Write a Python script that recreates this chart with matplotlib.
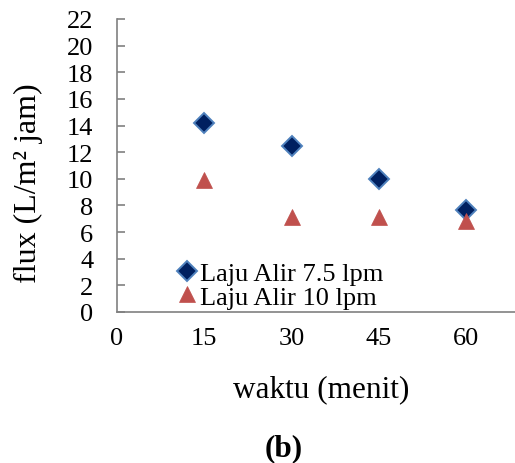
import numpy as np
import matplotlib
matplotlib.use('Agg')
from matplotlib import pyplot as plt

plt.rcParams['font.family'] = ['Liberation Serif', 'DejaVu Serif']

waktu = [15, 30, 45, 60]
flux_75 = [14.19, 12.49, 9.99, 7.66]   # Laju Alir 7.5 lpm
flux_10 = [9.93, 7.11, 7.11, 6.80]     # Laju Alir 10 lpm
x_ticks = [0, 15, 30, 45, 60]
y_ticks = list(range(0, 23, 2))

W, H = 515, 464
fig = plt.figure(figsize=(W / 100, H / 100), dpi=100)
# plot area in pixels: left spine x=117, y from 20 (22) to 313 (0)
ax = fig.add_axes([117 / W, 1 - 313 / H, (W - 117) / W, (313 - 20) / H])

ax.plot(waktu, flux_75, linestyle='none', marker='D', markersize=10,
        markerfacecolor='#002060', markeredgecolor='#4F81BD', markeredgewidth=1.4,
        label='Laju Alir 7.5 lpm')
ax.plot(waktu, flux_10, linestyle='none', marker='^', markersize=11,
        markerfacecolor='#C0504D', markeredgecolor='#C0504D', markeredgewidth=0.5,
        label='Laju Alir 10 lpm')

ax.set_xlim(0, (W - 117) / 87.3 * 15)
ax.set_ylim(0, 22)
ax.set_xticks(x_ticks)
ax.set_yticks(y_ticks)

for s in ['top', 'right']:
    ax.spines[s].set_visible(False)
for s in ['left', 'bottom']:
    ax.spines[s].set_color('#808080')
    ax.spines[s].set_linewidth(1.2)

ax.tick_params(axis='y', direction='in', length=6, width=1.2, color='#808080',
               labelsize=19, pad=17)
ax.tick_params(axis='x', length=0, labelsize=19, pad=11)

leg = ax.legend(loc='center left', bbox_to_anchor=(0.143, 0.092), frameon=False,
                fontsize=19, handlelength=1.0, handletextpad=0.0, borderpad=0,
                borderaxespad=0, labelspacing=0.0)

fig.text(28 / W, 1 - 183 / H, 'flux (L/m² jam)', rotation=90, fontsize=23,
         ha='center', va='center')
fig.text(321.5 / W, 1 - 390 / H, 'waktu (menit)', fontsize=22.5,
         ha='center', va='center')
fig.text(284 / W, 1 - 449 / H, '(b)', fontsize=22.5, fontweight='bold',
         ha='center', va='center')

fig.savefig('out.png', dpi=100)
